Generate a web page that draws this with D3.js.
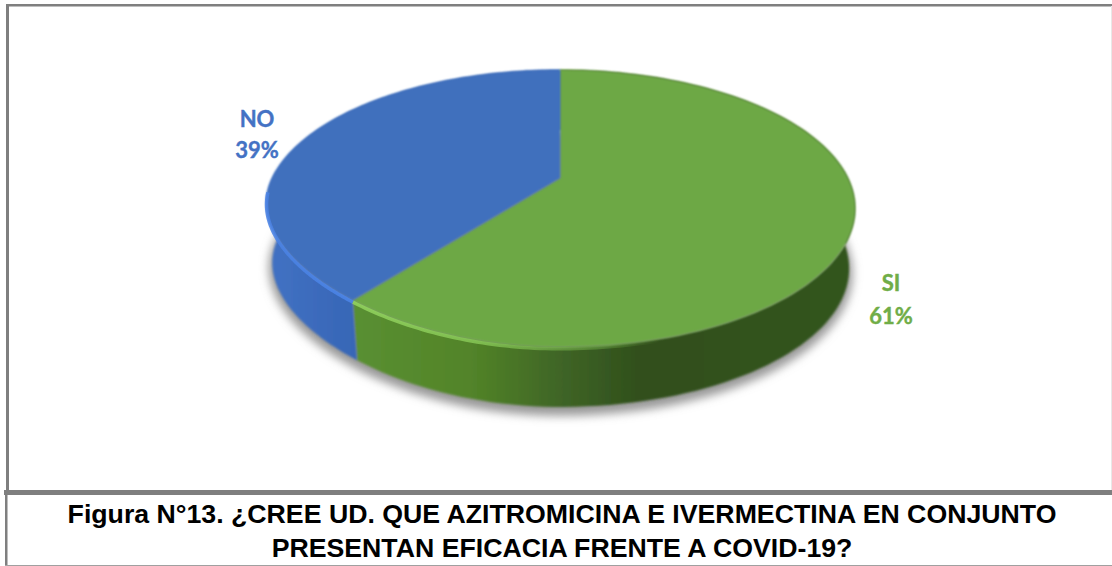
<!DOCTYPE html>
<html>
<head>
<meta charset="utf-8">
<script src="https://cdn.jsdelivr.net/npm/d3@7/dist/d3.min.js"></script>
<style>
    html, body { margin: 0; padding: 0; background: #fff; }
    svg { display: block; }
</style>
</head>
<body>
<div id="block"></div>
<script>
// data
var categories = ["SI", "NO"];
var percents = [61, 39];
var faceColors = ["#6da845", "#4070bd"];
var labelColors = ["#70ad47", "#4472c4"];
var titleLines = [
    "Figura N°13. ¿CREE UD. QUE AZITROMICINA E IVERMECTINA EN CONJUNTO",
    "PRESENTAN EFICACIA FRENTE A COVID-19?"
];

// dimensions
var svg_dx = 1112, svg_dy = 566;

// tilted disc, center is above the middle of the ellipse because of the perspective
var disc = {cx: 560, cy: 178, rx: 287.8, ry: 131.8, persp: -0.22, depth: 60, shrink: 0.02, lean: 36};

function project(a, z) {
    var u = -Math.cos(a),
        s = Math.sin(a),
        t = 1 + disc.persp * u,
        // front left of the disc is pulled in a little in the original
        pull = (s < 0 && u > 0) ? disc.lean * u * u * -s : 0;
    return [
        disc.cx + disc.rx * (1 - disc.shrink * z) * s / t + pull,
        disc.cy + disc.ry * u / t + disc.depth * z
    ];
}

function arcPoints(a0, a1, z) {
    return d3.range(0, 121).map(function (i) {
        return project(a0 + (a1 - a0) * i / 120, z);
    });
}

var line = d3.line();
var slices = d3.pie().sort(null)(percents);

var svg = d3.select("#block")
            .append("svg")
            .attr("width", svg_dx)
            .attr("height", svg_dy);

var defs = svg.append("defs");

defs.append("filter").attr("id", "shadow_blur")
    .attr("x", "-10%").attr("y", "-20%").attr("width", "120%").attr("height", "140%")
    .append("feGaussianBlur").attr("stdDeviation", 5);
defs.append("filter").attr("id", "soft")
    .attr("x", "-5%").attr("y", "-5%").attr("width", "110%").attr("height", "110%")
    .append("feGaussianBlur").attr("stdDeviation", 0.8);

function gradient(id, stops) {
    var g = defs.append("linearGradient").attr("id", id)
                .attr("gradientUnits", "userSpaceOnUse")
                .attr("x1", 265).attr("x2", 855).attr("y1", 0).attr("y2", 0);
    stops.forEach(function (s) {
        g.append("stop").attr("offset", (s[0] - 265) / 590).attr("stop-color", s[1])
         .attr("stop-opacity", s[2] === undefined ? 1 : s[2]);
    });
}

gradient("side_0", [[350, "#5a9032"], [470, "#528429"], [560, "#3f6526"], [640, "#304f1c"], [855, "#33551d"]]);
gradient("side_1", [[265, "#4272c4"], [355, "#3766b6"]]);
gradient("rim_0", [[350, "#94d660"], [480, "#88c957", 0.95], [590, "#70ad47", 0.6], [660, "#70ad47", 0]]);
gradient("rim_1", [[265, "#4a82e4"], [355, "#4c86ea"]]);

// shadow under the disc
svg.append("path")
   .attr("d", line(arcPoints(0, 2 * Math.PI, 1.08)) + "Z")
   .attr("fill", "#999")
   .attr("stroke", "#999")
   .attr("stroke-width", 8)
   .attr("filter", "url(#shadow_blur)");

// side wall
svg.append("g").attr("id", "sides")
   .selectAll("path")
   .data(slices)
   .enter()
   .append("path")
   .attr("d", function (d) {
       return line(arcPoints(d.startAngle, d.endAngle, 0)
                   .concat(arcPoints(d.endAngle, d.startAngle, 1))) + "Z";
   })
   .attr("fill", function (d, i) { return "url(#side_" + i + ")"; })
   .attr("filter", "url(#soft)");

// top face
svg.append("g").attr("id", "faces")
   .selectAll("path")
   .data(slices)
   .enter()
   .append("path")
   .attr("d", function (d) {
       return line([[disc.cx, disc.cy]].concat(arcPoints(d.startAngle, d.endAngle, 0))) + "Z";
   })
   .attr("fill", function (d, i) { return faceColors[i]; })
   .attr("stroke", function (d, i) { return faceColors[i]; })
   .attr("stroke-width", 0.5)
   .attr("filter", "url(#soft)");

// light rim along the front edge only, no filter so the gradient stroke stays strong
var rimFrom = Math.PI * 0.55, rimTo = Math.PI * 1.47;
svg.append("g").attr("id", "rims")
   .selectAll("path")
   .data(slices)
   .enter()
   .append("path")
   .attr("d", function (d) {
       return line(arcPoints(Math.max(d.startAngle, rimFrom), Math.min(d.endAngle, rimTo), 0.03));
   })
   .attr("fill", "none")
   .attr("stroke", function (d, i) { return "url(#rim_" + i + ")"; })
   .attr("stroke-width", 3.5)
   .attr("stroke-opacity", 0.85);

// labels
var labelPos = [[891, 290.5, 324], [257, 127, 158]];
var labels = svg.append("g").attr("id", "labels")
                .attr("font-family", "Lato, 'Open Sans', sans-serif")
                .attr("font-weight", 700)
                .attr("font-size", 22)
                .attr("stroke-width", 0.4)
                .attr("text-anchor", "middle");
categories.forEach(function (c, i) {
    labels.append("text").attr("x", labelPos[i][0]).attr("y", labelPos[i][1])
          .attr("fill", labelColors[i]).attr("stroke", labelColors[i]).text(c);
    labels.append("text").attr("x", labelPos[i][0]).attr("y", labelPos[i][2])
          .attr("fill", labelColors[i]).attr("stroke", labelColors[i]).text(percents[i] + "%");
});

// frame
var frameColor = "#7f7f7f";
function rule(x, y, w, h, color) {
    svg.append("rect").attr("x", x).attr("y", y).attr("width", w).attr("height", h)
       .attr("fill", color || frameColor);
}
rule(6, 4, 1106, 2.5);
rule(6, 4, 3, 487);
rule(4, 490, 1108, 5);
rule(5, 495, 2.5, 71);
rule(5, 565, 1107, 1, "#a0a0a0");
rule(1111, 6, 1, 484, "#e8e8e8");

// title
svg.append("g").attr("id", "title")
   .attr("font-family", "'Liberation Sans', Arial, sans-serif")
   .attr("font-weight", 700)
   .attr("font-size", 26.7)
   .attr("text-anchor", "middle")
   .selectAll("text")
   .data(titleLines)
   .enter()
   .append("text")
   .attr("x", 562)
   .attr("y", function (d, i) { return i === 0 ? 523 : 557; })
   .attr("fill", "#000")
   .text(function (d) { return d; });
</script>
</body>
</html>
